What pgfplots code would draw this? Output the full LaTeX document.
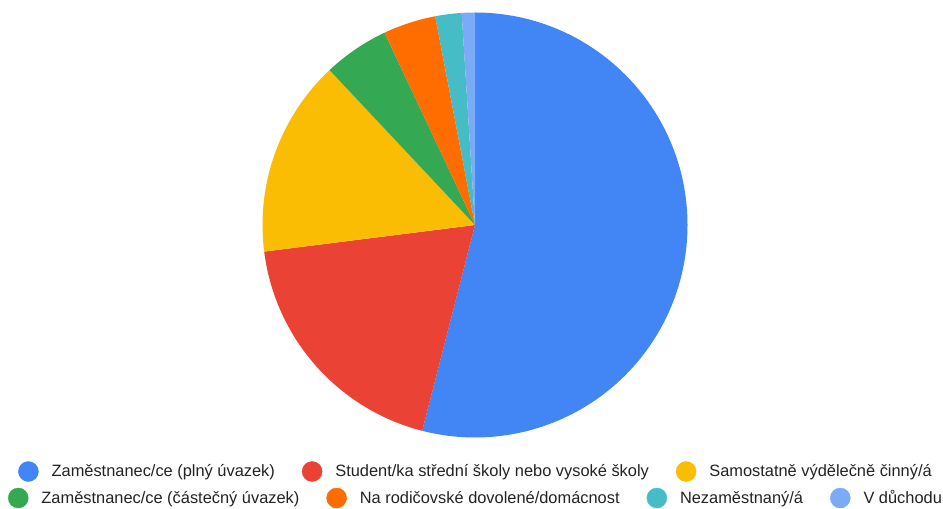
\documentclass[border=0pt]{standalone}
\usepackage{pgfplots}
\pgfplotsset{compat=1.18}
\usepackage{pgfplotstable}
\usepackage{fontspec}
\setmainfont{Liberation Sans}
\definecolor{gblue}{HTML}{4285F4}
\definecolor{gred}{HTML}{EA4335}
\definecolor{gyellow}{HTML}{FBBC04}
\definecolor{ggreen}{HTML}{34A853}
\definecolor{gorange}{HTML}{FF6D01}
\definecolor{gteal}{HTML}{46BDC6}
\definecolor{glightblue}{HTML}{7BAAF7}
\definecolor{txt}{HTML}{222222}
\pgfplotstableread{
share color
54 gblue
19 gred
15 gyellow
5 ggreen
4 gorange
2 gteal
1 glightblue
}\piedata
\pgfplotsset{
  glegend/.style={
    legend image code/.code={\fill[##1] (0pt,0pt) circle[radius=10pt];},
    legend cell align=left,
    legend style={draw=none, fill=none, inner sep=0pt, outer sep=0pt,
      font=\fontsize{16.4}{19}\selectfont, text=txt, column sep=0pt,
      /tikz/every odd column/.append style={column sep=13pt},
      /tikz/every even column/.append style={column sep=27pt},
      nodes={inner sep=0pt}},
  },
  pieax/.style={width=943pt, height=508pt, scale only axis, xmin=0, xmax=943,
    ymin=0, ymax=508, hide axis, clip=false, at={(0,0)}, anchor=south west},
}
\begin{document}
\begin{tikzpicture}
\begin{axis}[pieax, glegend, legend columns=3,
  legend style={at={(475/943,36.5/508)}, anchor=center}]
\addplot[draw=none, forget plot] coordinates {(0,0) (943,508)};
\pgfplotsextra{%
  \gdef\cum{0}%
  \pgfplotstablegetrowsof{\piedata}%
  \pgfmathtruncatemacro\N{\pgfplotsretval-1}%
  \foreach \i in {0,...,\N}{%
    \pgfplotstablegetelem{\i}{share}\of\piedata
    \let\v\pgfplotsretval
    \pgfplotstablegetelem{\i}{color}\of\piedata
    \edef\col{\pgfplotsretval}%
    \pgfmathsetmacro\a{90-3.6*\cum}%
    \pgfmathsetmacro\b{90-3.6*(\cum+\v)}%
    \fill[\col] (axis cs:475,283) -- (axis cs:{475+212.5*cos(\a)},{283+212.5*sin(\a)})
      arc[start angle=\a, end angle=\b, radius=212.5] -- cycle;
    \pgfmathsetmacro\c{\cum+\v}%
    \global\let\cum\c
  }%
}
\addlegendimage{gblue}\addlegendentry{Zaměstnanec/ce (plný úvazek)}
\addlegendimage{gred}\addlegendentry{Student/ka střední školy nebo vysoké školy}
\addlegendimage{gyellow}\addlegendentry{Samostatně výdělečně činný/á}
\end{axis}
\begin{axis}[pieax, glegend, legend columns=4,
  legend style={at={(475/943,10/508)}, anchor=center}]
\addlegendimage{ggreen}\addlegendentry{Zaměstnanec/ce (částečný úvazek)}
\addlegendimage{gorange}\addlegendentry{Na rodičovské dovolené/domácnost}
\addlegendimage{gteal}\addlegendentry{Nezaměstnaný/á}
\addlegendimage{glightblue}\addlegendentry{V důchodu}
\end{axis}
\end{tikzpicture}
\end{document}
